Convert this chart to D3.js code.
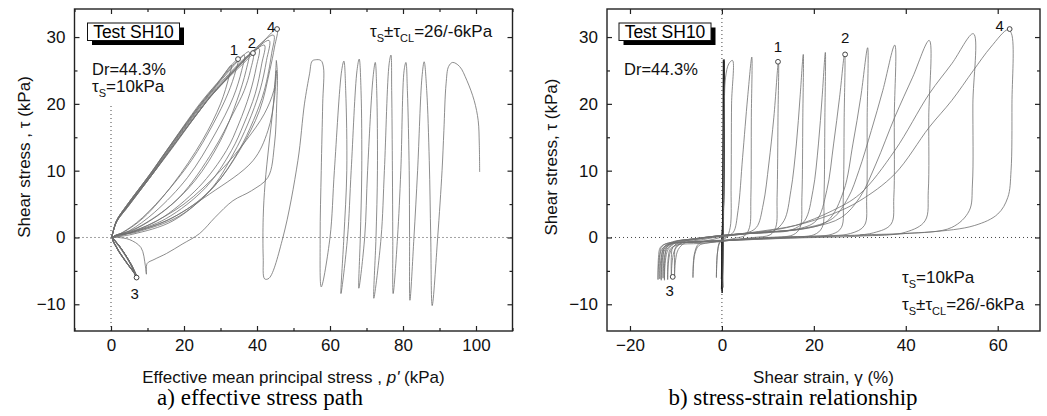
<!DOCTYPE html>
<html>
<head>
<meta charset="utf-8">
<script src="https://cdn.jsdelivr.net/npm/d3@7"></script>
<style>
  body { margin: 0; background: #fff; }
  svg { display: block; font-family: "Liberation Sans", Arial, sans-serif; }
</style>
</head>
<body>
<svg id="chart" width="1047" height="416"></svg>
<script>
// ---- data ----

// panel a) effective stress path  [p' (kPa), tau (kPa)]
const leftTicksX = [0, 20, 40, 60, 80, 100];
const leftTicksY = [-10, 0, 10, 20, 30];

// first cycles, p' falls from 101 kPa down to ~42 kPa
const leftSpikes = [[101,9.8],[100.9,14],[100.6,17.5],[99.5,20.5],[97.5,23.5],[95.5,25.6],[93.6,26.2],[92.5,25.6],[91.8,23],[91.2,16],[90.7,10],[89.5,0],[88,-10.2],
  [87.6,0],[87.2,11.5],[86.5,22],[85.8,26.3],[85.2,24],[84,10],[83,0],[81.9,-9.4],
  [81.8,0],[81.7,10],[81.2,22],[80.8,26.2],[80.3,25],[79.4,10],[78.5,0],[77.3,-8.4],
  [77.2,0],[77.1,10],[76.9,22],[76.7,27.3],[76.2,26],[74.9,10],[74,0],[72,-9.1],
  [72.6,0],[73,10],[72.8,22],[72.4,26.2],[71.8,24],[70.3,10],[69.5,0],[67.9,-7.6],
  [68.3,0],[68.7,10],[68.5,22],[68,26.7],[67.4,25],[65.8,10],[64.8,0],[63,-8.4],
  [63.8,0],[64.6,10],[64.3,22],[63.8,26.4],[63.2,25],[61.2,10],[60,0],[57.6,-7.4],
  [57.3,0],[57.6,10],[58,20],[58.2,25.5],[57.5,26.5],[56,26.6],[55.1,26.4],[54.4,24.5],[53,20],[51.2,11.5],[47.1,0],[43.3,-6.1],[42.1,-6.2],
  [41.7,-3],[41.7,3],[42.2,8],[43.3,14],[44.5,20],[45.3,26.5]];

const leftRelax = [[45.3,26.5],[45.6,24.5],[45.4,20],[44.8,14],[43,9],[38.5,7],[33.4,5.5],[28.5,3],[24.3,0.6],[19.5,-1],[15.2,-2.4],[11.8,-3.3],[9.9,-3.9],[9.7,-5.5],[9.4,-4.2],[8.2,-1.5],[5,-0.3],[2,0],[0.3,0.1]];

const leftWide = [[0.3,0.1],[6.1,0.8],[15.2,2.5],[27,6.5],[38.9,11.5],[43,16],[44.8,21],[45.3,25],[44.6,22],[42,18.5],[37,14.5],[30,10],[20,5],[10,1.8],[3,0.3],[0.3,0]];

// liquefied cycles: load along the failure line, unload back to the origin, dip to tau = -6
const leftLoop3 = [[0.2,0],[1.5,2.5],[4.3,4.8],[10.7,9.5],[15.2,13],[24.3,19.8],[28.9,22.8],[33,25.8],[32.3,24],[30,20],[25,14.5],[17,8],[9,3],[3.5,0.8],[0.5,0],[1.5,-1.5],[4,-3.6],[6.3,-5.3],[6.8,-5.9],[5.5,-4.2],[2.5,-1.6],[0.3,-0.1]];
const leftLoop4 = [[0.2,0],[1.5,2.5],[4.3,4.8],[10.7,9.5],[15.2,13],[24.3,20],[28.9,23],[34.8,26.7],[34.2,25],[32,21.5],[28,17],[22,11.5],[14,6],[7,2.2],[2,0.4],[0.4,0],[1.6,-1.6],[4.3,-3.8],[6.6,-5.5],[7.2,-6.1],[5.6,-4.1],[2.4,-1.4],[0.3,0]];
const leftLoop5 = [[0.2,0],[1.5,2.5],[4.3,4.8],[10.7,9.4],[15.2,12.9],[24.3,19.8],[28.9,22.9],[36.5,27.3],[35.8,25],[33.5,21],[28.5,15.5],[21,9],[12,3.8],[5,1],[0.5,0],[1.5,-1.4],[4.1,-3.6],[6.4,-5.3],[6.9,-5.8],[5.2,-3.8],[2.2,-1.2],[0.3,0]];
const leftLoop6 = [[0.2,0],[1.5,2.4],[4.4,4.7],[10.8,9.4],[15.3,12.9],[24.3,19.6],[28.9,22.7],[37.8,27.8],[37,25],[34.5,20.5],[30,14.5],[23,8.5],[14.6,4],[6.5,1.2],[0.6,0],[1.7,-1.7],[4.5,-4],[6.9,-5.7],[7.4,-6.2],[5.8,-4.3],[2.6,-1.5],[0.3,0]];
const leftLoop7 = [[0.2,0],[1.5,2.4],[4.4,4.7],[10.8,9.3],[15.4,12.8],[24.3,19.5],[28.9,22.5],[38.9,27.6],[38.2,25],[36.5,22],[33.4,18.5],[28,13],[18.7,6],[9,2],[3,0.5],[0.5,0],[1.6,-1.5],[4.3,-3.8],[6.6,-5.5],[7,-6],[5.4,-4],[2.3,-1.3],[0.3,0]];
const leftLoop8 = [[0.2,0],[1.5,2.4],[4.4,4.6],[10.9,9.3],[15.5,12.8],[24.3,19.3],[28.9,22.3],[40.5,28.3],[39.8,25.5],[38,21.5],[35,17],[31.6,13],[24,7.5],[13,2.6],[4,0.6],[0.5,0],[1.7,-1.6],[4.5,-3.9],[6.9,-5.6],[7.3,-6.1],[5.7,-4.2],[2.5,-1.4],[0.3,0]];
const leftLoop9 = [[0.2,0],[1.5,2.4],[4.4,4.6],[10.9,9.2],[15.6,12.7],[24.3,19.1],[28.9,22.1],[42,28.8],[41.3,26],[39.5,21.5],[36.4,17],[33,13],[26,7.5],[15,2.8],[5,0.7],[0.5,0],[1.5,-1.5],[4.2,-3.7],[6.4,-5.4],[6.8,-5.9],[5.3,-3.9],[2.2,-1.2],[0.3,0]];
const leftLoop10 = [[0.2,0],[1.5,2.3],[4.5,4.6],[11,9.2],[15.7,12.7],[24.3,19],[28.5,21.9],[43.3,29.5],[42.6,26.5],[40.8,22],[37.5,17],[33.5,12.5],[27,7],[17,3],[6,0.8],[0.5,0],[1.6,-1.6],[4.3,-3.8],[6.6,-5.5],[7,-6],[5.5,-4],[2.3,-1.3],[0.3,0]];
const leftLoop11 = [[0.2,0],[1.5,2.3],[4.5,4.5],[11,9.2],[15.8,12.8],[24.3,19],[28.2,21.7],[44.5,30.3],[44,27.5],[42,22],[39,17.5],[35,13],[28.5,7.8],[18.7,3.2],[7,0.8],[0.5,0],[1.6,-1.5],[4.4,-3.8],[6.7,-5.6],[7.1,-6],[5.6,-4.1],[2.4,-1.4],[0.3,0]];
const leftLoop12 = [[0.2,0],[1.5,2.3],[4.5,4.5],[11,9.2],[16,12.8],[28,21.5],[38,27],[45.5,31.2],[44.8,28.5],[43.5,25],[40.7,19],[35.2,13],[28,7.5],[17,2.5],[6,0.5],[0.3,0]];

const leftMarks = [[34.8,26.7],[38.9,27.6],[7,-6],[45.5,31.2]];
const markNames = ["1", "2", "3", "4"];

// panel b) stress-strain relationship  [gamma (%), tau (kPa)]
const rightTicksX = [-20, 0, 20, 40, 60];
const rightTicksY = [-10, 0, 10, 20, 30];

const rightCycle1 = [[-0.1,-7.8],[0.1,0],[0.3,26.6],[0.2,4],[0,-0.3],[-0.1,-6.2]];
const rightCycle1b = [[-0.1,-6.2],[0.2,0],[0.4,26.5],[0.35,5],[0.1,-0.3],[0.05,-8.3]];
const rightCycle1c = [[0.05,-8.3],[0.3,0],[0.5,26.6],[0.4,6],[0.2,0],[0.1,-7]];
const rightCycle1d = [[0.1,-7],[0.2,0],[0.45,26.4],[0.3,3],[0,-0.5],[0.2,-7.5]];
const rightCycle2 = [[0.2,-7.5],[0.3,0],[0.5,18],[0.8,24],[1.5,26],[2.3,26.5],[2.1,20],[2,8],[1.8,1.5],[1,0],[0,-0.4],[-0.6,-1],[-1,-2.5],[-1.2,-6]];
const rightCycle3 = [[-1.2,-6],[-1,-2.5],[-0.4,-0.5],[1,0.1],[2.5,0.8],[3.5,4],[4.5,12],[5.6,21],[6.5,27],[6.4,18],[6.3,6],[6,1.5],[5,0.3],[3,-0.1],[0,-0.5],[-3,-0.8],[-5,-1.2],[-5.9,-2.5],[-6.3,-6]];
const rightCycle4 = [[-6.3,-6],[-6,-2.5],[-5,-0.9],[-2,-0.3],[1,0.2],[5,0.6],[7.5,1.5],[9,5],[10.2,11],[11.3,18],[12.3,26.4],[12.2,18],[12,6],[11.7,1.5],[10.5,0.4],[7,0],[3,-0.3],[0,-0.6],[-5,-0.9],[-9.5,-1.1],[-11.2,-1.7],[-11.7,-3.2],[-11.8,-6.3]];
const rightCycle5 = [[-11.8,-6.3],[-11.6,-3.5],[-11,-1.8],[-9.5,-0.8],[-6,-0.3],[0,0.2],[6,0.6],[11,0.9],[13.5,2.5],[15,7],[16.2,14],[17,21],[17.7,27.4],[17.6,18],[17.4,6],[17,1.5],[15.5,0.4],[10,0],[5,-0.2],[0,-0.5],[-6,-0.7],[-10.5,-0.9],[-12,-1.5],[-12.4,-3],[-12.5,-6.4]];
const rightCycle6 = [[-12.5,-6.4],[-12.3,-3.5],[-11.7,-1.8],[-10,-0.8],[-6,-0.3],[0,0.2],[8,0.7],[15,1.1],[18,2.5],[19.8,7],[21,14],[21.8,21],[22.5,27.7],[22.4,18],[22.2,6],[21.8,1.5],[20,0.4],[14,0.1],[6,-0.2],[0,-0.5],[-6,-0.7],[-11,-0.9],[-12.7,-1.5],[-13.1,-3],[-13.2,-6.4]];
const rightCycle7 = [[-13.2,-6.4],[-13,-3.5],[-12.4,-1.8],[-10.5,-0.7],[-6,-0.2],[0,0.3],[8,0.8],[16,1.2],[20.5,2.5],[22.8,7],[24.3,14],[25.6,21],[26.7,27.5],[26.6,18],[26.4,6],[26,1.5],[24,0.5],[16,0.1],[6,-0.2],[0,-0.5],[-7,-0.7],[-12,-0.9],[-13.4,-1.5],[-13.8,-3],[-13.9,-6.3]];
const rightCycle8 = [[-13.9,-6.3],[-13.7,-3.5],[-13.1,-1.8],[-11,-0.7],[-6,-0.2],[0,0.3],[10,0.8],[18,1.3],[23,2.5],[26.5,7],[28.5,14],[30.2,21],[31.7,28.4],[31.6,18],[31.5,6],[31,1.8],[28,0.6],[20,0.2],[8,-0.2],[0,-0.5],[-7,-0.7],[-12,-0.9],[-13.2,-1.5],[-13.5,-3],[-13.5,-6.2]];
const rightCycle9 = [[-13.5,-6.2],[-13.3,-3.5],[-12.7,-1.8],[-10.5,-0.7],[-6,-0.2],[0,0.3],[10,0.8],[18,1.4],[24,2.8],[27.5,6],[29.8,10],[32.5,16],[35,22],[37.6,28.8],[37.5,18],[37.4,6],[36.8,2],[33,0.7],[24,0.2],[10,-0.2],[0,-0.5],[-6,-0.7],[-11,-0.9],[-12.5,-1.5],[-12.8,-3],[-12.8,-6.1]];
const rightCycle10 = [[-12.8,-6.1],[-12.6,-3.5],[-12,-1.8],[-10,-0.7],[-6,-0.2],[0,0.3],[10,0.8],[20,1.6],[26,3],[30,6],[33.5,11],[37.6,18],[41.5,24],[45.1,29.5],[45,18],[44.9,7],[44.2,2.5],[40,0.8],[30,0.2],[15,-0.1],[0,-0.5],[-6,-0.7],[-9.5,-0.9],[-10.7,-1.5],[-11,-3],[-11,-6]];
const rightCycle11 = [[-11,-6],[-10.8,-3.5],[-10.2,-1.8],[-8.5,-0.7],[-5,-0.2],[0,0.3],[8,0.8],[16,1.8],[24,4],[30,6.5],[37.6,13],[45.1,21.5],[50,26],[54.7,30.5],[54.6,20],[54.5,8],[53.8,4],[50,1.5],[40,0.6],[25,0.2],[10,-0.1],[0,-0.4],[-6,-0.6],[-9,-0.9],[-10.1,-1.5],[-10.3,-3],[-10.3,-6]];
const rightCycle12 = [[-10.3,-6],[-10.1,-3.5],[-9.5,-1.8],[-8,-0.8],[-4,-0.3],[0,0.2],[8,0.9],[16,1.8],[24,3.5],[30,5.5],[37.6,9.5],[45.1,16.5],[50,20.5],[54.7,25],[58.5,28.5],[62.2,31.1],[63,30.5],[63.1,20],[62.9,10],[62.2,6],[60,3.5],[55,1.8],[45,0.8],[30,0.4]];

const rightMarks = [[12.2,26.3],[26.8,27.4],[-10.7,-5.9],[62.6,31.2]];

// ---- drawing ----
const svg = d3.select("#chart");
const lineColor = "#707070";

function drawPanel(opt) {
  const x = d3.scaleLinear().domain(opt.xDomain).range([opt.left, opt.right]);
  const y = d3.scaleLinear().domain([-14, 34.2]).range([331, 9]);
  const g = svg.append("g");

  const clipId = "clip-" + opt.name;
  svg.append("clipPath").attr("id", clipId)
    .append("rect")
    .attr("x", opt.left).attr("y", 9)
    .attr("width", opt.right - opt.left).attr("height", 322);

  // dotted zero lines
  g.append("line")
    .attr("x1", opt.left).attr("x2", opt.right)
    .attr("y1", y(0)).attr("y2", y(0))
    .attr("stroke", "#444").attr("stroke-dasharray", "1,3");
  g.append("line")
    .attr("x1", x(0)).attr("x2", x(0))
    .attr("y1", 331).attr("y2", y(opt.vTop))
    .attr("stroke", "#444").attr("stroke-dasharray", "1,3");

  // curves
  const line = d3.line()
    .x(d => x(d[0]))
    .y(d => y(d[1]))
    .curve(d3.curveCatmullRom.alpha(0.5));

  g.append("g").attr("clip-path", `url(#${clipId})`)
    .selectAll("path")
    .data(opt.series)
    .enter().append("path")
    .attr("d", line)
    .attr("fill", "none")
    .attr("stroke", d => d.length < 8 ? "#222" : lineColor)
    .attr("stroke-width", d => d.length < 8 ? 1.1 : 0.8);

  // axes, ticks point inward, no labels on top and right
  const majX = opt.ticksX;
  const minX = d3.range(opt.xDomain[0], opt.xDomain[1] + 0.1, 10).filter(v => !majX.includes(v) && v % 10 === 0);
  const majY = opt.ticksY;
  const minY = [-5, 5, 15, 25];

  const axes = [
    [d3.axisBottom(x), true, "translate(0,331)"],
    [d3.axisTop(x), false, "translate(0,9)"]
  ];
  axes.forEach(([ax, labels, tr]) => {
    g.append("g").attr("transform", tr)
      .call(ax.tickValues(majX).tickSize(-5).tickPadding(labels ? 8 : 0)
        .tickFormat(labels ? d3.format("d") : ""));
    g.append("g").attr("transform", tr)
      .call(ax.tickValues(minX).tickSize(-3).tickFormat(""));
  });
  const yAxes = [
    [d3.axisLeft(y), true, `translate(${opt.left},0)`],
    [d3.axisRight(y), false, `translate(${opt.right},0)`]
  ];
  yAxes.forEach(([ax, labels, tr]) => {
    g.append("g").attr("transform", tr)
      .call(ax.tickValues(majY).tickSize(-5).tickPadding(labels ? 9 : 0)
        .tickFormat(labels ? d3.format("d") : ""));
    g.append("g").attr("transform", tr)
      .call(ax.tickValues(minY).tickSize(-3).tickFormat(""));
  });
  g.selectAll(".domain").remove();
  g.selectAll(".tick line").attr("stroke", "#222").attr("stroke-width", 1.2);
  g.selectAll(".tick text")
    .style("font-size", "17px")
    .style("font-family", "Liberation Sans, Arial, sans-serif")
    .attr("fill", "#111");

  // frame
  g.append("rect")
    .attr("x", opt.left).attr("y", 9)
    .attr("width", opt.right - opt.left).attr("height", 322)
    .attr("fill", "none").attr("stroke", "#222").attr("stroke-width", 1.4);

  // marked points
  g.selectAll(".mark")
    .data(opt.marks)
    .enter().append("circle")
    .attr("cx", d => x(d[0])).attr("cy", d => y(d[1]))
    .attr("r", 2.4)
    .attr("fill", "#fff").attr("stroke", "#444").attr("stroke-width", 1);
  g.selectAll(".markLabel")
    .data(opt.marks)
    .enter().append("text")
    .attr("x", (d, i) => x(d[0]) + opt.labelOffsets[i][0])
    .attr("y", (d, i) => y(d[1]) + opt.labelOffsets[i][1] + 5.5)
    .attr("text-anchor", "middle")
    .style("font-size", "15px")
    .attr("fill", "#111")
    .text((d, i) => markNames[i]);

  // "Test SH10" box with shadow
  const bx = opt.boxX;
  g.append("rect").attr("x", bx + 4.5).attr("y", 27.5).attr("width", 92).attr("height", 17.5).attr("fill", "#000");
  g.append("rect").attr("x", bx).attr("y", 23).attr("width", 92).attr("height", 17.5)
    .attr("fill", "#fff").attr("stroke", "#111").attr("stroke-width", 1);
  g.append("text").attr("x", bx + 46).attr("y", 38).attr("text-anchor", "middle")
    .style("font-size", "17.5px").attr("fill", "#000").text("Test SH10");

  // y axis title
  g.append("text")
    .attr("transform", `translate(${opt.yTitleX},157) rotate(-90)`)
    .attr("text-anchor", "middle")
    .style("font-size", "17px").attr("fill", "#111")
    .text(opt.yTitle);

  return { g, x, y };
}

function tauText(g, px, py, sub2, rest) {
  const t = g.append("text").attr("x", px).attr("y", py)
    .style("font-size", "17px").attr("fill", "#111");
  t.append("tspan").text("τ");
  t.append("tspan").attr("dy", 5).style("font-size", "11px").text("S");
  if (sub2) {
    t.append("tspan").attr("dy", -5).text("±τ");
    t.append("tspan").attr("dy", 5).style("font-size", "11px").text("CL");
  }
  t.append("tspan").attr("dy", -5).text(rest);
}

// panel a
const pa = drawPanel({
  name: "a", xDomain: [-10, 110], left: 74.5, right: 512.5,
  ticksX: leftTicksX, ticksY: leftTicksY, vTop: 20,
  series: [leftSpikes, leftRelax, leftWide, leftLoop3, leftLoop4, leftLoop5, leftLoop6,
           leftLoop7, leftLoop8, leftLoop9, leftLoop10, leftLoop11, leftLoop12],
  marks: leftMarks,
  labelOffsets: [[-4, -10], [-1, -11], [-2, 16], [-6, -3]],
  boxX: 87.5, yTitleX: 30, yTitle: "Shear stress , τ (kPa)"
});
pa.g.append("text").attr("x", 92).attr("y", 75).style("font-size", "16.5px").attr("fill", "#111").text("Dr=44.3%");
tauText(pa.g, 92, 92, false, "=10kPa");
tauText(pa.g, 370, 37, true, "=26/-6kPa");
const xa = pa.g.append("text").attr("x", 293.5).attr("y", 383).attr("text-anchor", "middle")
  .style("font-size", "17px").attr("fill", "#111");
xa.append("tspan").text("Effective mean principal stress , ");
xa.append("tspan").style("font-style", "italic").text("p'");
xa.append("tspan").text(" (kPa)");

// panel b
const pb = drawPanel({
  name: "b", xDomain: [-25, 69.2], left: 607, right: 1040,
  ticksX: rightTicksX, ticksY: rightTicksY, vTop: 34.2,
  series: [rightCycle1, rightCycle1b, rightCycle1c, rightCycle1d, rightCycle2, rightCycle3,
           rightCycle4, rightCycle5, rightCycle6, rightCycle7, rightCycle8, rightCycle9,
           rightCycle10, rightCycle11, rightCycle12],
  marks: rightMarks,
  labelOffsets: [[0, -15], [0, -17], [-3, 14], [-10, -4]],
  boxX: 619, yTitleX: 557, yTitle: "Shear stress, τ (kPa)"
});
pb.g.append("text").attr("x", 624).attr("y", 75).style("font-size", "16.5px").attr("fill", "#111").text("Dr=44.3%");
tauText(pb.g, 902, 283, false, "=10kPa");
tauText(pb.g, 902, 310, true, "=26/-6kPa");
pb.g.append("text").attr("x", 823.5).attr("y", 383).attr("text-anchor", "middle")
  .style("font-size", "17px").attr("fill", "#111").text("Shear strain, γ (%)");

// captions
svg.append("text").attr("x", 260).attr("y", 405).attr("text-anchor", "middle")
  .style("font-family", "Liberation Serif, Times New Roman, serif").style("font-size", "23px")
  .text("a) effective stress path");
svg.append("text").attr("x", 793).attr("y", 405).attr("text-anchor", "middle")
  .style("font-family", "Liberation Serif, Times New Roman, serif").style("font-size", "23px")
  .text("b) stress-strain relationship");
</script>
</body>
</html>
